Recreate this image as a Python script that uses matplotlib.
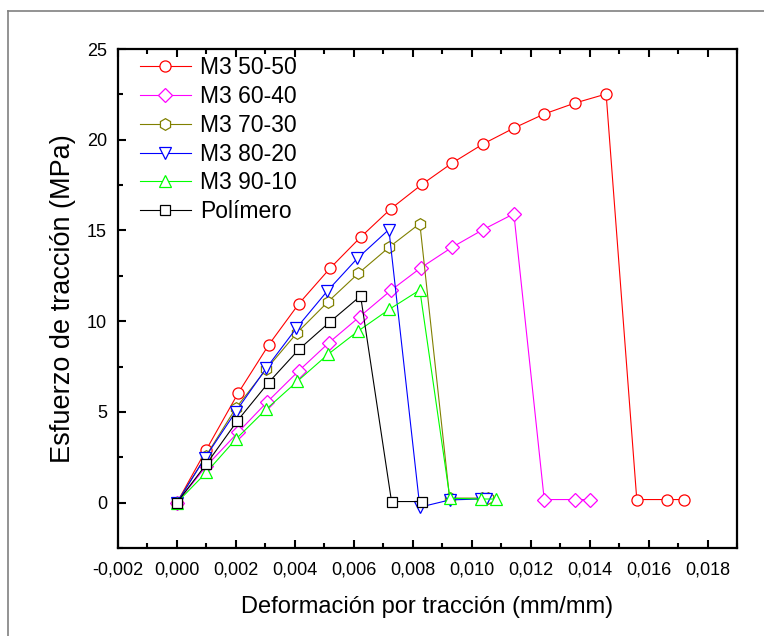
import matplotlib
matplotlib.use("Agg")
import matplotlib.pyplot as plt
from matplotlib.ticker import MultipleLocator, FuncFormatter
from matplotlib.lines import Line2D

plt.rcParams['font.family'] = ['Liberation Sans', 'DejaVu Sans']

labels = ["M3 50-50", "M3 60-40", "M3 70-30", "M3 80-20", "M3 90-10", "Polímero"]

x_5050 = [0, 0.00099, 0.00207, 0.00312, 0.00414, 0.00519, 0.00623, 0.00726, 0.00832,
          0.00934, 0.01039, 0.01144, 0.01246, 0.0135, 0.01456, 0.0156, 0.01663, 0.0172]
y_5050 = [0, 2.9, 6.02, 8.71, 10.97, 12.91, 14.63, 16.2, 17.55,
          18.72, 19.77, 20.65, 21.42, 22.02, 22.52, 0.17, 0.17, 0.17]

x_6040 = [0, 0.00099, 0.00207, 0.00307, 0.00413, 0.00516, 0.0062, 0.00726, 0.00828,
          0.00934, 0.01039, 0.01143, 0.01246, 0.0135, 0.01401]
y_6040 = [0, 2.0, 3.87, 5.56, 7.26, 8.82, 10.25, 11.7, 12.95,
          14.08, 15.05, 15.92, 0.17, 0.17, 0.17]

x_7030 = [0, 0.00099, 0.00199, 0.00303, 0.00408, 0.00513, 0.00615, 0.0072, 0.00824,
          0.00925, 0.01035, 0.01055]
y_7030 = [0, 2.59, 5.19, 7.35, 9.37, 11.08, 12.63, 14.08, 15.38, 0.25, 0.25, 0.25]

x_8020 = [0, 0.00094, 0.00199, 0.00303, 0.00405, 0.0051, 0.00612, 0.00719, 0.00824,
          0.00926, 0.0103, 0.0105]
y_8020 = [0, 2.44, 5.0, 7.41, 9.61, 11.66, 13.46, 15.05, -0.25, 0.15, 0.2, 0.2]

x_9010 = [0, 0.001, 0.002, 0.00303, 0.00408, 0.00513, 0.00615, 0.0072, 0.00824,
          0.00926, 0.01031, 0.01081]
y_9010 = [0, 1.67, 3.5, 5.15, 6.68, 8.18, 9.46, 10.65, 11.72, 0.24, 0.2, 0.2]

x_pol = [0, 0.001, 0.00205, 0.00311, 0.00414, 0.00519, 0.00623, 0.00728, 0.0083]
y_pol = [0, 2.13, 4.51, 6.62, 8.45, 9.96, 11.39, 0.06, 0.06]

series = [
    (x_5050, y_5050, '#ff0000', 'o', 8.0),
    (x_6040, y_6040, '#ff00ff', 'D', 6.8),
    (x_7030, y_7030, '#808000', 'h', 8.4),
    (x_8020, y_8020, '#0000ff', 'v', 8.0),
    (x_9010, y_9010, '#00ff00', '^', 8.0),
    (x_pol, y_pol, '#000000', 's', 6.5),
]

fig = plt.figure(figsize=(7.64, 6.36), dpi=100)
ax = fig.add_axes([118/764, 1 - 548/636, (737-118)/764, (548-49)/636])

for (xs, ys, c, m, ms), lab in zip(series, labels):
    ax.plot(xs, ys, color=c, lw=0.8, marker=m, ms=ms, mfc='white', mec=c,
            mew=0.9, label=lab)

ax.set_xlim(-0.002, 0.019)
ax.set_ylim(-2.5, 25)
ax.xaxis.set_major_locator(MultipleLocator(0.002))
ax.xaxis.set_minor_locator(MultipleLocator(0.001))
ax.yaxis.set_major_locator(MultipleLocator(5))
ax.yaxis.set_minor_locator(MultipleLocator(2.5))
ax.xaxis.set_major_formatter(FuncFormatter(lambda v, p: f"{v:.3f}".replace('.', ',').replace('-0,000', '0,000')))
ax.yaxis.set_major_formatter(FuncFormatter(lambda v, p: f"{v:.0f}"))

ax.tick_params(which='both', direction='in', top=True, right=False, width=1.5, labelsize=13)
ax.tick_params(which='major', length=6)
ax.tick_params(which='minor', length=3.5)
ax.tick_params(axis='x', which='major', pad=10)
ax.tick_params(axis='y', which='major', pad=8)
for s in ax.spines.values():
    s.set_linewidth(1.6)

ax.set_xlabel("Deformación por tracción (mm/mm)", fontsize=17, labelpad=12)
ax.set_ylabel("Esfuerzo de tracción (MPa)", fontsize=19.5, labelpad=8)

leg = ax.legend(loc='upper left', bbox_to_anchor=(0.035, 0.985), frameon=False,
                fontsize=16.5, handlelength=2.25, handletextpad=0.4,
                labelspacing=0.25, borderpad=0, borderaxespad=0)

# outer border of the figure panel
bc = '#808080'
fig.add_artist(Line2D([8/764, 8/764], [0, 1 - 11/636], transform=fig.transFigure, color=bc, lw=1.2))
fig.add_artist(Line2D([8/764, 1], [1 - 11/636, 1 - 11/636], transform=fig.transFigure, color=bc, lw=1.2))

fig.savefig("out.png", dpi=100)
